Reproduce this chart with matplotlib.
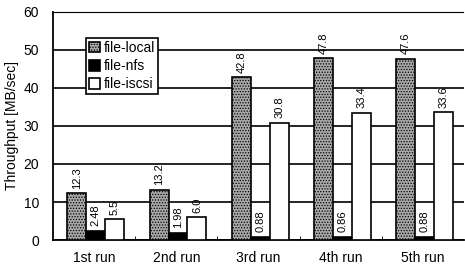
import numpy as np
import matplotlib.pyplot as plt

plt.rcParams["font.family"] = ["Liberation Sans", "DejaVu Sans"]
plt.rcParams["hatch.color"] = "#3a3a3a"
plt.rcParams["hatch.linewidth"] = 0.6

runs = ["1st run", "2nd run", "3rd run", "4th run", "5th run"]
file_local = [12.3, 13.2, 42.8, 47.8, 47.6]
file_nfs = [2.48, 1.98, 0.88, 0.86, 0.88]
file_iscsi = [5.5, 6.0, 30.8, 33.4, 33.6]
series_names = ["file-local", "file-nfs", "file-iscsi"]

fig = plt.figure(figsize=(4.65, 2.7), dpi=100)
ax = fig.add_axes([0.114, 0.111, 0.884, 0.845])

x = np.arange(len(runs))
width = 0.23
series = [file_local, file_nfs, file_iscsi]
colors = ["#a8a8a8", "black", "white"]
hatches = ["......", None, None]

for i, (vals, name, col, h) in enumerate(zip(series, series_names, colors, hatches)):
    pos = x + (i - 1) * width + 0.02
    ax.bar(pos, vals, width, color=col, edgecolor="black", linewidth=1.2,
           hatch=h, label=name, zorder=3)
    for p, v in zip(pos, vals):
        ax.text(p, v + 1.2, f"{v:.2f}" if v < 3 else f"{v:.1f}",
                rotation=90, ha="center", va="bottom", fontsize=8, zorder=4)

ax.set_xlim(-0.5, len(runs) - 0.5)
ax.set_ylim(0, 60)
ax.set_yticks(range(0, 61, 10))
ax.set_xticks(x)
ax.set_xticklabels(runs, fontsize=10)
ax.tick_params(axis="x", length=0, pad=8)
ax.tick_params(axis="y", labelsize=10, length=0, pad=10)
ax.set_xticks(np.arange(0.5, len(runs) - 0.5, 1), minor=True)
ax.tick_params(axis="x", which="minor", direction="in", length=3)
ax.set_ylabel("Throughput [MB/sec]", fontsize=10, labelpad=3)

ax.grid(axis="y", color="black", linewidth=1.2, zorder=0)
ax.set_axisbelow(True)
ax.spines["right"].set_visible(False)
ax.spines["top"].set_linestyle((0, (4, 1)))
ax.spines["left"].set_linewidth(1.3)
ax.spines["bottom"].set_linewidth(1.3)

leg = ax.legend(loc="upper left", bbox_to_anchor=(0.08, 0.885), fontsize=10,
                handlelength=0.8, handleheight=0.8, handletextpad=0.3,
                borderpad=0.2, labelspacing=0.3, borderaxespad=0,
                fancybox=False, framealpha=1)
leg.get_frame().set_edgecolor("black")
leg.get_frame().set_linewidth(1.2)

plt.savefig("out.png", dpi=100)
